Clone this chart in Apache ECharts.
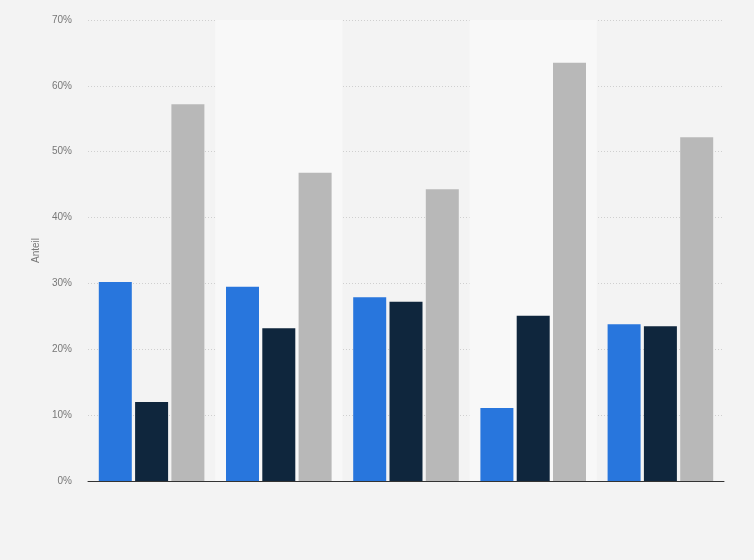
<!DOCTYPE html>
<html>
<head>
<meta charset="utf-8">
<script src="https://cdn.jsdelivr.net/npm/echarts@6/dist/echarts.min.js"></script>
<style>html,body{margin:0;padding:0;background:#f3f3f3;}#c{width:754px;height:560px;}</style>
</head>
<body>
<div id="c"></div>
<script>
var categories = ['Gruppe 1', 'Gruppe 2', 'Gruppe 3', 'Gruppe 4', 'Gruppe 5'];
var seriesA = [30.2, 29.5, 27.9, 11.1, 23.8];
var seriesB = [12.0, 23.2, 27.2, 25.1, 23.5];
var seriesC = [57.2, 46.8, 44.3, 63.5, 52.2];
var yTicks = [0, 10, 20, 30, 40, 50, 60, 70];

var chart = echarts.init(document.getElementById('c'));
chart.setOption({
  backgroundColor: '#f3f3f3',
  animation: false,
  grid: {left: 88, right: 30, top: 20, bottom: 79},
  xAxis: {
    type: 'category',
    data: categories,
    axisLine: {lineStyle: {color: '#333', width: 1}},
    axisTick: {show: false},
    axisLabel: {show: false},
    splitArea: {show: true, areaStyle: {color: ['rgba(0,0,0,0)', '#f8f8f8']}}
  },
  yAxis: {
    type: 'value',
    min: yTicks[0],
    max: yTicks[yTicks.length - 1],
    interval: 10,
    name: 'Anteil',
    nameLocation: 'middle',
    nameGap: 46,
    nameTextStyle: {color: '#777', fontSize: 10, fontFamily: 'Liberation Sans'},
    axisLine: {show: false},
    axisTick: {show: false},
    axisLabel: {formatter: '{value}%', color: '#777', fontSize: 10, fontFamily: 'Liberation Sans', margin: 16, padding: [3, 0, 0, 0]},
    splitLine: {lineStyle: {color: '#cfcfcf', type: [1, 2], width: 1}}
  },
  series: [
    {type: 'bar', name: 'A', data: seriesA, barWidth: 33, barGap: '10%', itemStyle: {color: '#2876dd'}},
    {type: 'bar', name: 'B', data: seriesB, barWidth: 33, barGap: '10%', itemStyle: {color: '#0f263d'}},
    {type: 'bar', name: 'C', data: seriesC, barWidth: 33, barGap: '10%', itemStyle: {color: '#b8b8b8'}}
  ]
});
</script>
</body>
</html>
